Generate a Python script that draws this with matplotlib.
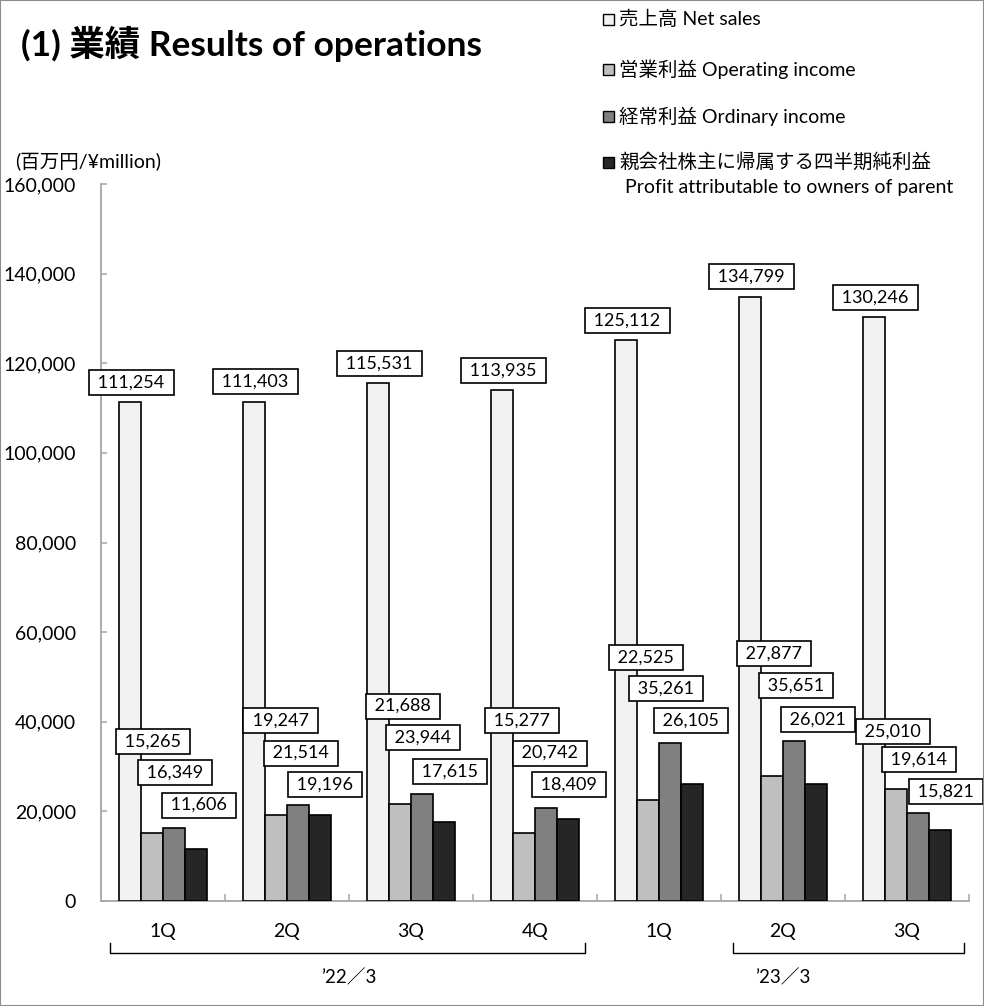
import matplotlib
matplotlib.use("Agg")
import matplotlib.pyplot as plt
from matplotlib.patches import Rectangle
from matplotlib.transforms import blended_transform_factory
import numpy as np

plt.rcParams['font.family'] = ['Lato', 'Noto Sans CJK JP', 'DejaVu Sans']

# ---------------- data ----------------
categories = ['1Q', '2Q', '3Q', '4Q', '1Q', '2Q', '3Q']
periods = ['’22／3', '’23／3']
period_groups = [(0, 3), (4, 6)]

net_sales = [111254, 111403, 115531, 113935, 125112, 134799, 130246]
operating_income = [15265, 19247, 21688, 15277, 22525, 27877, 25010]
ordinary_income = [16349, 21514, 23944, 20742, 35261, 35651, 19614]
profit = [11606, 19196, 17615, 18409, 26105, 26021, 15821]

series_names = ['売上高 Net sales', '営業利益 Operating income', '経常利益 Ordinary income',
                '親会社株主に帰属する四半期純利益']
series_name_extra = 'Profit attributable to owners of parent'
y_ticks = [0, 20000, 40000, 60000, 80000, 100000, 120000, 140000, 160000]
y_unit = '(百万円/¥million)'
title = '(1) 業績 Results of operations'

# ---------------- layout (label placement, not data) ----------------
oi_lbl_dx = [-0.08, -0.05, -0.065, -0.105, -0.105, -0.073, -0.113]
oi_lbl_y = [35500, 40200, 43500, 40200, 54400, 55300, 37900]
ord_lbl_dx = [0.097, 0.113, 0.097, 0.121, 0.056, 0.105, 0.097]
ord_lbl_y = [28600, 33000, 36400, 33000, 47500, 48000, 31500]
pr_lbl_dx = [0.29, 0.306, 0.315, 0.274, 0.258, 0.282, 0.315]
pr_lbl_y = [21400, 25900, 28800, 25900, 40200, 40400, 24500]
bracket_extent = [(-0.43, 3.40), (4.60, 6.46)]

colors = ['#f2f2f2', '#bfbfbf', '#808080', '#262626']
axis_grey = '#a6a6a6'

fig = plt.figure(figsize=(9.84, 10.06), dpi=100)
ax = fig.add_axes([101/984, 105/1006, 868/984, 717/1006])

x = np.arange(len(categories))
w = 0.179
all_series = [net_sales, operating_income, ordinary_income, profit]
offsets = [-1.5*w, -0.5*w, 0.5*w, 1.5*w]
for vals, off, c in zip(all_series, offsets, colors):
    ax.bar(x + off, vals, width=w, color=c, edgecolor='black', linewidth=1.2, zorder=3)

box = dict(boxstyle='square,pad=0.25', facecolor='white', edgecolor='black', linewidth=1.2)
lbl_fs = 13

def fmt(v):
    return ' ' + format(v, ',') + ' '

for i, v in enumerate(net_sales):
    ax.annotate(fmt(v), (x[i] + offsets[0], v), xytext=(1.5, 20), textcoords='offset pixels',
                ha='center', va='center', fontsize=lbl_fs, bbox=box, zorder=5)

for vals, dxs, ys in [(operating_income, oi_lbl_dx, oi_lbl_y),
                      (ordinary_income, ord_lbl_dx, ord_lbl_y),
                      (profit, pr_lbl_dx, pr_lbl_y)]:
    for i, v in enumerate(vals):
        ax.text(x[i] + dxs[i], ys[i], fmt(v), ha='center', va='center', fontsize=lbl_fs,
                bbox=box, zorder=5)

ax.set_xlim(-0.5, len(categories) - 0.5)
ax.set_ylim(0, 160000)
ax.set_yticks(y_ticks)
ax.set_yticklabels([format(t, ',') for t in y_ticks])
ax.set_xticks(x)
ax.set_xticklabels(categories)
ax.set_xticks(np.arange(len(categories)) + 0.5, minor=True)
ax.tick_params(axis='x', which='major', length=0, pad=16, labelsize=14)
ax.tick_params(axis='x', which='minor', direction='in', length=5, color=axis_grey, width=1.1)
ax.tick_params(axis='y', direction='in', length=4.5, color=axis_grey, width=1.1, pad=18, labelsize=14)

for s in ['top', 'right']:
    ax.spines[s].set_visible(False)
for s in ['left', 'bottom']:
    ax.spines[s].set_color(axis_grey)
    ax.spines[s].set_linewidth(1.3)

# period brackets
tr = blended_transform_factory(ax.transData, ax.transAxes)
for (x0, x1), name, (g0, g1) in zip(bracket_extent, periods, period_groups):
    ax.plot([x0, x0, x1, x1], [-0.0586, -0.0725, -0.0725, -0.0586], color='black',
            linewidth=1.0, transform=tr, clip_on=False)
    ax.text((g0 + g1) / 2, -0.107, name, transform=tr, ha='center', va='center', fontsize=13.5)

# title / unit
fig.text(21/984, 1 - 44/1006, title, fontsize=25.5, fontweight='bold', ha='left', va='center')
fig.text(15/984, 1 - 162/1006, y_unit, fontsize=14, ha='left', va='center')

# legend
leg_y = [19, 69, 116, 162]
for name, c, yy in zip(series_names, colors, leg_y):
    fig.add_artist(Rectangle((603/984, 1 - (yy + 5.5)/1006), 11/984, 11/1006, facecolor=c,
                             edgecolor='black', linewidth=1.0, transform=fig.transFigure))
    fig.text(619/984, 1 - yy/1006, name, fontsize=14, ha='left', va='center')
fig.text(625/984, 1 - 188/1006, series_name_extra, fontsize=14, ha='left', va='center')

# outer frame
fig.add_artist(Rectangle((0, 0), 1, 1, fill=False, edgecolor='#8c8c8c', linewidth=1.5,
                         transform=fig.transFigure))

fig.savefig('out.png', dpi=100)
